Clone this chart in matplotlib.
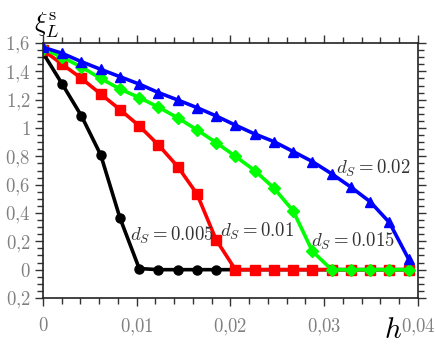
import numpy as np
import matplotlib
matplotlib.use('Agg')
import matplotlib.pyplot as plt
from matplotlib.ticker import MultipleLocator, FixedLocator

plt.rcParams['mathtext.fontset'] = 'cm'
plt.rcParams['font.family'] = 'DejaVu Serif'

# 20 grid points in h
h = np.linspace(0, 0.039, 20)

xi_005 = [1.53, 1.31, 1.085, 0.81, 0.365, 0.008, 0, 0, 0, 0,
          0, 0, 0, 0, 0, 0, 0, 0, 0, 0]
xi_010 = [1.55, 1.45, 1.35, 1.24, 1.13, 1.015, 0.88, 0.728, 0.535, 0.21,
          0, 0, 0, 0, 0, 0, 0, 0, 0, 0]
xi_015 = [1.56, 1.50, 1.43, 1.35, 1.275, 1.215, 1.147, 1.072, 0.987, 0.897,
          0.80, 0.70, 0.576, 0.415, 0.13, 0, 0, 0, 0, 0]
xi_020 = [1.57, 1.527, 1.468, 1.414, 1.362, 1.31, 1.25, 1.198, 1.144, 1.085,
          1.02, 0.958, 0.904, 0.834, 0.763, 0.677, 0.583, 0.48, 0.333, 0.075]

labels = ['$d_S = 0.005$', '$d_S = 0.01$', '$d_S = 0.015$', '$d_S = 0.02$']
label_pos = [(0.00928, 0.24), (0.0189, 0.27), (0.02855, 0.20), (0.0313, 0.717)]

xticks = [0, 0.01, 0.02, 0.03, 0.04]
xticklabels = ['$0$', '$0{,}01$', '$0{,}02$', '$0{,}03$', '$0{,}04$']
yticks = [-0.2, 0, 0.2, 0.4, 0.6, 0.8, 1.0, 1.2, 1.4, 1.6]
yticklabels = ['$0{,}2$', '$0$', '$0{,}2$', '$0{,}4$', '$0{,}6$', '$0{,}8$',
               '$1$', '$1{,}2$', '$1{,}4$', '$1{,}6$']

fig = plt.figure(figsize=(4.36, 3.54), dpi=100)
ax = fig.add_axes([0.0986, 0.1582, 0.8601, 0.7203])

lw = 2.6
ms = 6.5
ax.plot(h, xi_005, color='black', marker='o', lw=lw, ms=ms)
ax.plot(h, xi_010, color='#ff0000', marker='s', lw=lw, ms=ms)
ax.plot(h, xi_015, color='#00ff00', marker='D', lw=lw, ms=ms - 0.5)
ax.plot(h, xi_020, color='#0000ff', marker='^', lw=lw, ms=ms + 1)

for txt, (tx, ty) in zip(labels, label_pos):
    ax.text(tx, ty, txt, fontsize=13.5, color='#333333', ha='left', va='center')

ax.set_xlim(0, 0.04)
ax.set_ylim(-0.2, 1.6)
ax.xaxis.set_major_locator(FixedLocator(xticks))
ax.set_xticklabels(xticklabels)
ax.xaxis.set_minor_locator(MultipleLocator(0.002))
ax.yaxis.set_major_locator(FixedLocator(yticks))
ax.set_yticklabels(yticklabels)
ax.yaxis.set_minor_locator(MultipleLocator(0.05))

ax.tick_params(which='both', direction='out', top=True, right=True,
               colors='#333333', labelcolor='#808080', width=1.0)
ax.tick_params(which='major', length=6, labelsize=13.5)
ax.tick_params(which='minor', length=4)
ax.tick_params(axis='x', which='major', pad=8)
ax.tick_params(axis='y', which='major', pad=3)
for s in ax.spines.values():
    s.set_linewidth(1.2)
    s.set_color('#222222')

fig.text(0.108, 0.93, r'$\xi_L^{\rm s}$', fontsize=19, ha='center', va='center')
fig.text(0.901, 0.068, r'$h$', fontsize=21, ha='center', va='center')

fig.savefig('out.png', dpi=100)
